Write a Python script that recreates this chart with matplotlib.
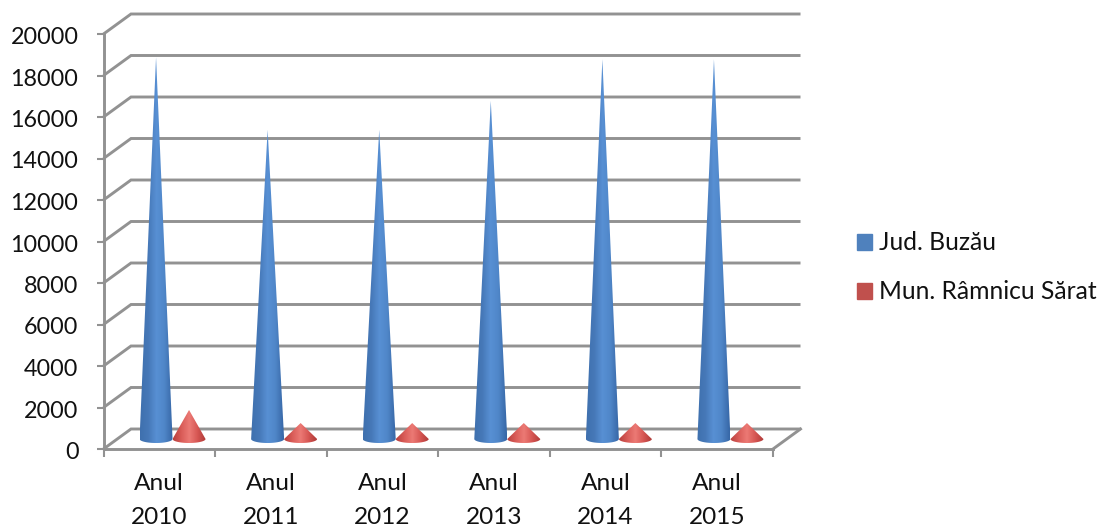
import numpy as np
import matplotlib
matplotlib.use('Agg')
import matplotlib.pyplot as plt
from matplotlib.colors import LinearSegmentedColormap
from matplotlib.patches import Patch, Polygon
from matplotlib.transforms import ScaledTranslation

years = ['Anul\n2010', 'Anul\n2011', 'Anul\n2012', 'Anul\n2013', 'Anul\n2014', 'Anul\n2015']
jud_buzau = [18400, 14900, 14900, 16300, 18300, 18300]
mun_ramnicu = [1400, 770, 770, 770, 770, 770]
y_ticks = [0, 2000, 4000, 6000, 8000, 10000, 12000, 14000, 16000, 18000, 20000]

GRID = '#929292'
plt.rcParams['font.family'] = ['Lato', 'DejaVu Sans']

W, H = 1101, 526
fig = plt.figure(figsize=(W / 100, H / 100), dpi=100)
ax = fig.add_axes([103.5 / W, (H - 449) / H, 669.5 / W, 415 / H])
ax.set_xlim(0, 6)
ax.set_ylim(0, 20000)

# fake 3d depth, in data units
px_x = 6 / 669.5
px_y = 20000 / 415
dx = 27.5 * px_x
dy = 20 * px_y

# back wall + side wall lines
for v in y_ticks:
    ax.plot([0, dx, 6 + dx], [v, v + dy, v + dy], color=GRID, lw=2.1, clip_on=False, zorder=1,
            solid_capstyle='butt', solid_joinstyle='miter')
ax.plot([6, 6 + dx], [0, dy], color=GRID, lw=2.1, clip_on=False, zorder=1)

blue_cmap = LinearSegmentedColormap.from_list('blue', ['#3f70ae', '#4678b8', '#5890d4', '#4f86c8', '#3767a6'])
red_cmap = LinearSegmentedColormap.from_list('red', ['#b8403e', '#d95c58', '#ec7a75', '#d65653', '#b03a38'])


def draw_cone(xc, value, cmap):
    half_w = 16.5 * px_x
    half_h = 4 * px_y
    base = dy / 2
    t = np.linspace(np.pi, 2 * np.pi, 30)
    xs = xc + half_w * np.cos(t)
    ys = base + half_h * np.sin(t)
    pts = [(xc, base + value)] + list(zip(xs, ys))
    clip = Polygon(pts, closed=True, transform=ax.transData, fc='none', ec='none')
    ax.add_patch(clip)
    grad = np.linspace(0, 1, 64).reshape(1, -1)
    im = ax.imshow(grad, cmap=cmap, aspect='auto', zorder=3, interpolation='bilinear',
                   extent=[xc - half_w, xc + half_w, base - half_h, base + value])
    im.set_clip_path(clip)


for i in range(len(years)):
    center = i + 0.5 + dx / 2
    draw_cone(center - 17 * px_x, jud_buzau[i], blue_cmap)
    draw_cone(center + 16 * px_x, mun_ramnicu[i], red_cmap)
ax.set_xlim(0, 6)
ax.set_ylim(0, 20000)

for s in ['top', 'right']:
    ax.spines[s].set_visible(False)
for s in ['left', 'bottom']:
    ax.spines[s].set_color(GRID)
    ax.spines[s].set_linewidth(2.1)
    ax.spines[s].set_zorder(2)
ax.patch.set_alpha(0)

ax.set_yticks(y_ticks)
ax.set_xticks(range(7))
ax.set_xticklabels([])
ax.set_xticks(np.arange(6) + 0.5, labels=years, minor=True)
ax.tick_params(axis='y', labelsize=16.8, length=5, width=1.5, color=GRID, pad=13, labelcolor='#111111')
ax.tick_params(axis='x', which='major', length=6, width=1.5, color=GRID)
ax.tick_params(axis='x', which='minor', length=0, labelsize=17.6, pad=17.5, labelcolor='#111111')
for lab in ax.get_xticklabels(minor=True):
    lab.set_linespacing(1.74)
# nudge the y labels down a bit
shift = ScaledTranslation(0, -1.5 / 100, fig.dpi_scale_trans)
for lab in ax.get_yticklabels():
    lab.set_transform(lab.get_transform() + shift)

handles = [Patch(color='#4f81bd', label='Jud. Buzău'), Patch(color='#c0504d', label='Mun. Râmnicu Sărat')]
fig.legend(handles=handles, loc='upper left', bbox_to_anchor=(850 / W, 1 - 224 / H), frameon=False,
           fontsize=17.7, handlelength=0.6, handleheight=0.6, handletextpad=0.28, labelspacing=1.06,
           labelcolor='#111111', borderpad=0.3, borderaxespad=0)

fig.savefig('out.png', dpi=100)
